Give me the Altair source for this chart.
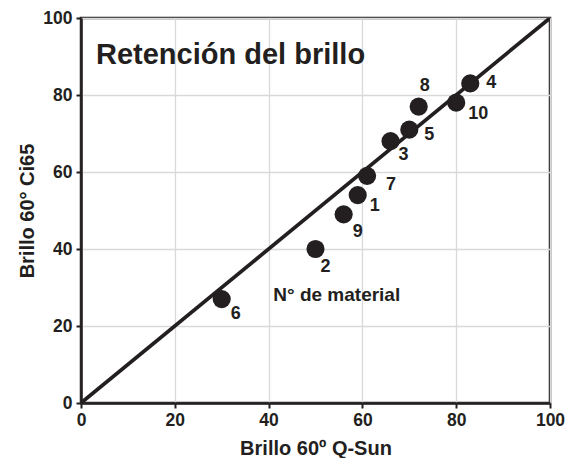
import altair as alt
import pandas as pd

materials = ["1", "2", "3", "4", "5", "6", "7", "8", "9", "10"]
qsun = [59, 50, 66, 83, 70, 30, 61, 72, 56, 80]
ci65 = [54, 40, 68, 83, 71, 27, 59, 77, 49, 78]
diag = [0, 100]
ticks = [0, 20, 40, 60, 80, 100]

# label offsets (pixels) per material number, styling only
label_offsets = {
    "1": (17, 11), "2": (10, 18), "3": (13, 14), "4": (21, 0), "5": (20, 5),
    "6": (14, 15), "7": (24, 9), "8": (6, -21), "9": (14, 18), "10": (22, 11),
}

df = pd.DataFrame({"m": materials, "x": qsun, "y": ci65})
ddf = pd.DataFrame({"x": diag, "y": diag})

FONT = "Liberation Sans"
INK = "#231f20"

xs = alt.Scale(domain=[0, 100], nice=False, zero=False)
ys = alt.Scale(domain=[0, 100], nice=False, zero=False)

common = dict(
    labelFont=FONT, labelFontSize=17.5, labelFontWeight="bold", labelColor=INK,
    titleFont=FONT, titleFontSize=20, titleFontWeight="bold", titleColor=INK,
    tickSize=5, tickColor=INK, tickWidth=2,
    domainColor=INK, domainWidth=2.5, gridColor="#d9d9d9", gridWidth=1.3,
    labelFlush=False,
)
xaxis = alt.Axis(values=ticks, title="Brillo 60º Q-Sun", titlePadding=10, labelPadding=3, **common)
yaxis = alt.Axis(values=ticks, title="Brillo 60° Ci65", titlePadding=5, labelPadding=4, **common)

base = alt.Chart(df)

line = alt.Chart(ddf).mark_line(color=INK, strokeWidth=3.7, clip=True).encode(
    x=alt.X("x:Q", scale=xs, axis=xaxis),
    y=alt.Y("y:Q", scale=ys, axis=yaxis),
)

points = base.mark_circle(size=330, color=INK, opacity=1).encode(
    x=alt.X("x:Q", scale=xs), y=alt.Y("y:Q", scale=ys)
)

labels = []
for m in materials:
    dx, dy = label_offsets[m]
    labels.append(
        base.transform_filter(alt.datum.m == m).mark_text(
            font=FONT, fontSize=18, fontWeight="bold", color=INK,
            dx=dx, dy=dy, align="center", baseline="middle"
        ).encode(x=alt.X("x:Q", scale=xs), y=alt.Y("y:Q", scale=ys), text="m:N")
    )

title_txt = alt.Chart(pd.DataFrame({"x": [3.2], "y": [88.0], "t": ["Retención del brillo"]})).mark_text(
    font=FONT, fontSize=29, fontWeight="bold", color=INK, align="left", baseline="alphabetic"
).encode(x=alt.X("x:Q", scale=xs), y=alt.Y("y:Q", scale=ys), text="t:N")

legend_txt = alt.Chart(pd.DataFrame({"x": [41.0], "y": [26.5], "t": ["N° de material"]})).mark_text(
    font=FONT, fontSize=19, fontWeight="bold", color=INK, align="left", baseline="alphabetic"
).encode(x=alt.X("x:Q", scale=xs), y=alt.Y("y:Q", scale=ys), text="t:N")

chart = alt.layer(line, points, *labels, title_txt, legend_txt).properties(
    width=469, height=385,
    autosize=alt.AutoSizeParams(type="none"),
    padding={"left": 73, "top": 10, "right": 20, "bottom": 55},
    background="white",
).configure_view(stroke=INK, strokeWidth=2.5)

chart.save("out.html", embed_options={"renderer": "svg", "actions": False})
